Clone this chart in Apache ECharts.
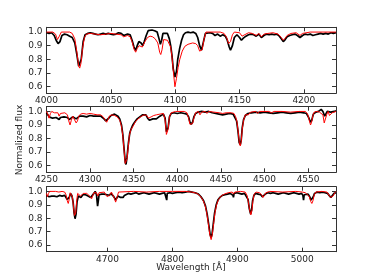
<!DOCTYPE html>
<html><head><meta charset="utf-8">
<script src="https://cdn.jsdelivr.net/npm/echarts@6/dist/echarts.min.js"></script>
<style>html,body{margin:0;padding:0;background:#fff}#c{width:374px;height:280px}</style>
</head><body><div id="c"></div>
<script>
// ---- data ----
const xRange1 = [4000, 4225];
const xRange2 = [4250, 4582];
const xRange3 = [4606, 5052];
const yRange = [0.55, 1.035];
const xTicks1 = [4000, 4050, 4100, 4150, 4200];
const xTicks2 = [4250, 4300, 4350, 4400, 4450, 4500, 4550];
const xTicks3 = [4700, 4800, 4900, 5000];
const yTicks = [0.6, 0.7, 0.8, 0.9, 1.0];

const obs1 = [[4000,0.995],[4002,0.99],[4004,0.995],[4006,0.975],[4007.5,0.94],[4009,0.915],[4010.5,0.93],[4012,0.975],[4014,0.985],[4016,0.98],[4018,0.97],[4020,0.96],[4022,0.92],[4023.5,0.84],[4025,0.75],[4026,0.755],[4027,0.8],[4028.5,0.93],[4030,0.98],[4032,0.99],[4034,0.995],[4036,0.99],[4038,0.985],[4040,0.98],[4042,0.985],[4044,0.99],[4046,0.985],[4048,0.99],[4050,0.985],[4052,0.98],[4054,0.985],[4056,0.995],[4058,0.99],[4060,0.975],[4061.5,0.97],[4063,0.985],[4065,0.98],[4066.5,0.94],[4068,0.89],[4069.3,0.865],[4070.5,0.9],[4071.8,0.93],[4073.5,0.92],[4074.8,0.9],[4076,0.93],[4077.5,0.975],[4079,1.01],[4080.5,1.02],[4082,1.015],[4084,1.01],[4086,1.0],[4087.5,0.95],[4088.5,0.91],[4089.5,0.94],[4090.5,0.99],[4092,1.0],[4094,0.99],[4095.5,0.95],[4096.5,0.9],[4097.5,0.83],[4098.5,0.73],[4099.8,0.67],[4101,0.71],[4102,0.8],[4103.5,0.88],[4105,0.94],[4106.5,0.98],[4108,0.995],[4110,1.0],[4112,0.995],[4114,1.0],[4116,0.99],[4117.5,0.96],[4119,0.9],[4120.5,0.867],[4122,0.93],[4123.5,0.99],[4125,1.0],[4127,0.995],[4129,0.99],[4131,0.975],[4133,0.985],[4135,0.97],[4137,0.98],[4139,0.97],[4140.5,0.94],[4142,0.89],[4143,0.867],[4144.5,0.9],[4146,0.96],[4148,0.98],[4150,0.96],[4151.5,0.94],[4153,0.955],[4155,0.97],[4157,0.98],[4159,0.985],[4161,0.98],[4163,0.97],[4165,0.985],[4167,0.96],[4169,0.975],[4171,0.985],[4173,0.98],[4175,0.985],[4177,0.98],[4179,0.985],[4181,0.97],[4182.5,0.95],[4184,0.93],[4185.5,0.945],[4187,0.965],[4189,0.975],[4191,0.98],[4193,0.985],[4195,0.975],[4197,0.96],[4199,0.975],[4201,0.985],[4203,0.98],[4205,0.985],[4207,0.975],[4209,0.98],[4211,0.985],[4213,0.99],[4215,0.985],[4217,0.99],[4219,0.985],[4221,0.995],[4223,0.99],[4225,0.995]];

const mod1 = [[4000,1.0],[4005,1.0],[4007,0.985],[4008.5,0.945],[4010,0.97],[4011.5,1.0],[4018,1.0],[4020,0.99],[4022,0.95],[4023.5,0.86],[4025,0.75],[4025.8,0.735],[4026.8,0.77],[4028,0.88],[4029.5,0.96],[4031,0.985],[4034,0.99],[4038,0.985],[4042,0.98],[4046,0.985],[4050,0.99],[4054,0.985],[4058,0.98],[4060,0.965],[4061.5,0.955],[4063,0.975],[4065,0.965],[4066.5,0.93],[4068,0.875],[4069.3,0.852],[4070.5,0.88],[4072,0.9],[4074.5,0.89],[4076.5,0.93],[4078.5,0.96],[4080.5,0.97],[4082.5,0.965],[4084.5,0.95],[4085.5,0.935],[4086.5,0.92],[4088,0.85],[4088.8,0.835],[4089.8,0.87],[4091,0.945],[4092.5,0.945],[4094,0.94],[4095.5,0.93],[4096.5,0.89],[4097.5,0.82],[4098.7,0.7],[4099.8,0.598],[4101,0.66],[4102.3,0.74],[4103.6,0.8],[4105.5,0.86],[4107.5,0.895],[4110,0.91],[4113.6,0.92],[4116,0.915],[4117.5,0.9],[4119,0.86],[4120,0.85],[4121,0.87],[4122.5,0.95],[4124,1.0],[4135,1.0],[4138,0.99],[4140,0.96],[4141.5,0.915],[4143,0.93],[4144.5,0.98],[4146,1.0],[4150,0.995],[4152,0.97],[4153.5,0.96],[4155,0.985],[4157,0.995],[4160,0.99],[4163,0.975],[4165,0.99],[4167,0.965],[4169,0.985],[4172,0.99],[4176,0.995],[4180,0.985],[4182.5,0.96],[4184,0.94],[4185.5,0.955],[4187,0.975],[4190,0.99],[4194,0.995],[4197,0.975],[4199,0.99],[4205,1.0],[4225,1.0]];

const obs2 = [[4250,0.99],[4251.5,0.975],[4253,0.96],[4255,0.965],[4257,0.95],[4259,0.96],[4261,0.955],[4263,0.965],[4264.5,0.94],[4266,0.955],[4268,0.965],[4270,0.96],[4272,0.965],[4274,0.955],[4276,0.94],[4278,0.95],[4280,0.96],[4282,0.955],[4284,0.945],[4286,0.955],[4288,0.965],[4290,0.96],[4292,0.965],[4294,0.97],[4296,0.96],[4298,0.965],[4300,0.97],[4302,0.96],[4304,0.965],[4306,0.97],[4308,0.965],[4310,0.96],[4312,0.965],[4314,0.955],[4316,0.945],[4318,0.93],[4320,0.935],[4322,0.955],[4324,0.97],[4326,0.975],[4328,0.98],[4330,0.97],[4332,0.965],[4334,0.945],[4336,0.9],[4337.5,0.83],[4339,0.72],[4340.3,0.625],[4341.2,0.608],[4342.3,0.66],[4344,0.77],[4345.5,0.84],[4347,0.87],[4349,0.9],[4351,0.92],[4354,0.945],[4357,0.96],[4360,0.975],[4362,0.98],[4364,0.975],[4366,0.95],[4368,0.935],[4370,0.94],[4372,0.945],[4374,0.94],[4376,0.945],[4378,0.955],[4380,0.965],[4382,0.975],[4384,0.98],[4386,0.95],[4387.5,0.85],[4388.3,0.84],[4389.5,0.88],[4391,0.96],[4393,0.985],[4396,0.99],[4400,0.985],[4404,0.99],[4408,0.985],[4411,0.98],[4413,0.96],[4414.5,0.92],[4416,0.905],[4417.5,0.92],[4419,0.96],[4421,0.985],[4424,0.995],[4428,1.0],[4432,0.995],[4436,1.0],[4440,0.99],[4444,0.985],[4448,0.98],[4452,0.975],[4456,0.98],[4460,0.985],[4464,0.98],[4466,0.97],[4468,0.93],[4469.5,0.86],[4471,0.77],[4472.3,0.755],[4473.3,0.79],[4474.5,0.88],[4476,0.94],[4478,0.97],[4481,0.985],[4485,0.99],[4490,0.995],[4495,0.99],[4500,0.995],[4505,0.99],[4510,0.985],[4515,0.99],[4520,0.995],[4525,0.99],[4530,0.985],[4535,0.99],[4540,0.995],[4545,0.99],[4548,0.985],[4551,0.95],[4552.8,0.92],[4554.2,0.935],[4556,0.98],[4559,0.995],[4562,1.0],[4565,1.015],[4567,1.0],[4569,0.965],[4570.5,0.975],[4572,1.0],[4574,1.01],[4576,0.995],[4578,1.005],[4580,1.0],[4582,1.005]];

const mod2 = [[4250,1.0],[4251.5,0.98],[4253,0.95],[4254.5,0.985],[4256,1.0],[4259,0.99],[4261,0.985],[4263,0.99],[4264.5,0.965],[4266,0.985],[4268,0.995],[4271,0.99],[4274,0.975],[4275.5,0.93],[4277,0.9],[4278.5,0.935],[4280,0.965],[4282,0.955],[4284,0.915],[4285.5,0.93],[4287,0.965],[4289,0.98],[4292,0.985],[4296,0.98],[4300,0.985],[4304,0.98],[4308,0.975],[4312,0.975],[4315,0.96],[4317.5,0.935],[4319,0.92],[4320.5,0.94],[4322,0.965],[4325,0.975],[4328,0.97],[4331,0.96],[4334,0.935],[4336,0.89],[4337.5,0.82],[4339,0.71],[4340.3,0.615],[4341.2,0.603],[4342.3,0.65],[4344,0.75],[4345,0.82],[4346.5,0.86],[4348,0.87],[4350,0.9],[4352,0.925],[4355,0.945],[4358,0.96],[4362,0.975],[4365,0.97],[4367,0.95],[4368.5,0.94],[4370,0.96],[4373,0.97],[4376,0.975],[4380,0.98],[4384,0.985],[4386,0.94],[4387.5,0.83],[4388.3,0.825],[4389.5,0.87],[4391,0.96],[4393,0.99],[4398,1.0],[4408,1.0],[4411,0.99],[4413,0.95],[4414.5,0.905],[4416,0.895],[4417.5,0.91],[4419,0.95],[4421,0.99],[4424,1.0],[4426,0.975],[4428,0.995],[4432,1.0],[4434,0.985],[4436,1.0],[4442,0.995],[4448,0.99],[4452,0.985],[4456,0.99],[4462,0.99],[4465,0.985],[4467,0.96],[4468.5,0.92],[4470,0.84],[4471.3,0.76],[4472.3,0.745],[4473.3,0.78],[4474.5,0.87],[4476,0.935],[4478,0.975],[4480,0.97],[4481.5,0.975],[4484,0.995],[4490,1.0],[4492,0.985],[4494,1.0],[4505,1.0],[4508,0.99],[4511,1.0],[4520,1.0],[4530,0.995],[4540,1.0],[4547,1.0],[4549.5,0.98],[4551.5,0.93],[4552.8,0.9],[4554,0.92],[4555.5,0.97],[4557,0.995],[4560,1.0],[4563,0.995],[4565,1.0],[4567,0.975],[4568.5,0.915],[4570,0.925],[4571.5,0.98],[4573,1.0],[4574.5,0.97],[4576,0.96],[4577.5,0.99],[4579,1.0],[4582,1.0]];

const obs3 = [[4606,0.97],[4608,0.965],[4610,0.96],[4612,0.97],[4614,0.965],[4616,0.955],[4618,0.965],[4620,0.97],[4622,0.96],[4624,0.965],[4626,0.97],[4628,0.96],[4630,0.965],[4632,0.975],[4634,0.97],[4636,0.96],[4638,0.94],[4639.5,0.93],[4641,0.955],[4643,0.985],[4645,0.97],[4647,0.92],[4648.5,0.84],[4650,0.796],[4651.5,0.83],[4653,0.92],[4655,0.965],[4657,0.97],[4659,0.955],[4660.5,0.95],[4662,0.975],[4664,0.985],[4666,0.975],[4668,0.97],[4670,0.965],[4672,0.96],[4674,0.955],[4675.5,0.945],[4677,0.96],[4679,0.985],[4681,1.0],[4683,0.975],[4684.7,0.89],[4685.8,0.93],[4687,0.975],[4689,0.985],[4691,0.98],[4693,0.97],[4695,0.98],[4697,0.985],[4699,0.975],[4701,0.98],[4703,0.97],[4705,0.985],[4707,0.98],[4709,0.965],[4711,0.95],[4712.5,0.935],[4714,0.945],[4716,0.965],[4718,0.96],[4720,0.955],[4722,0.945],[4724,0.955],[4726,0.97],[4728,0.98],[4732,0.985],[4736,0.98],[4740,0.985],[4744,0.99],[4748,0.98],[4752,0.985],[4756,0.99],[4760,0.985],[4764,0.98],[4768,0.985],[4772,0.99],[4776,0.985],[4780,0.98],[4784,0.985],[4788,0.99],[4790.3,0.985],[4791.2,0.935],[4792,0.985],[4796,0.99],[4800,0.985],[4805,0.99],[4810,0.995],[4815,0.99],[4820,0.995],[4825,1.0],[4830,0.995],[4835,0.99],[4840,0.98],[4844,0.96],[4848,0.93],[4851,0.89],[4853.5,0.83],[4856,0.75],[4858,0.68],[4859.6,0.655],[4861,0.68],[4863,0.76],[4865,0.84],[4867.5,0.9],[4870,0.935],[4873,0.955],[4877,0.97],[4881,0.975],[4885,0.98],[4889,0.985],[4892,0.98],[4893.3,0.97],[4894,0.955],[4895,0.985],[4899,0.99],[4903,0.985],[4907,0.98],[4911,0.985],[4914,0.975],[4916.5,0.94],[4918.5,0.87],[4920.5,0.83],[4922,0.86],[4923.5,0.93],[4925.5,0.97],[4928,0.985],[4932,0.98],[4936,0.975],[4938.5,0.96],[4940.5,0.965],[4943,0.98],[4947,0.99],[4951,0.985],[4955,0.99],[4959,0.985],[4963,0.98],[4967,0.985],[4971,0.99],[4975,0.985],[4979,0.98],[4983,0.985],[4987,0.99],[4991,0.985],[4995,0.98],[4999,0.985],[5001,0.97],[5002,0.935],[5003,0.975],[5006,0.985],[5009,0.98],[5011.5,0.96],[5013.5,0.935],[5015,0.935],[5017,0.96],[5019,0.985],[5023,0.995],[5027,0.99],[5031,0.995],[5035,0.99],[5039,0.985],[5042,0.975],[5044,0.955],[5045.5,0.95],[5047,0.965],[5049,0.985],[5051,0.995],[5052,0.99]];

const mod3 = [[4606,0.985],[4607.5,0.96],[4609,0.985],[4611,1.0],[4620,1.0],[4625,0.995],[4630,1.0],[4634,0.995],[4636.5,0.97],[4638,0.93],[4639.5,0.91],[4641,0.94],[4642.5,0.99],[4644,1.0],[4646,0.96],[4647.5,0.89],[4649,0.82],[4650,0.81],[4651,0.84],[4652.5,0.93],[4654,0.985],[4656,0.99],[4658.5,0.965],[4660.5,0.955],[4662.5,0.985],[4665,0.995],[4668,0.985],[4671,0.975],[4673.5,0.96],[4675.5,0.945],[4677,0.965],[4679,0.99],[4681,1.0],[4683,0.99],[4685,0.965],[4687,0.99],[4690,1.0],[4695,0.995],[4698,0.99],[4699.5,0.96],[4701,0.965],[4702.5,0.955],[4704,0.975],[4706,0.995],[4708.5,0.985],[4710.5,0.95],[4712.5,0.92],[4714,0.93],[4715.5,0.97],[4717,0.995],[4720,1.0],[4740,1.0],[4760,0.995],[4780,1.0],[4800,1.0],[4820,1.0],[4830,0.995],[4838,0.985],[4843,0.965],[4847,0.935],[4850,0.9],[4852.5,0.85],[4855,0.77],[4857.5,0.68],[4859.6,0.64],[4861.5,0.68],[4863.5,0.76],[4865.5,0.84],[4868,0.9],[4871,0.94],[4875,0.965],[4880,0.98],[4886,0.99],[4892,0.995],[4894,0.98],[4896,0.995],[4905,1.0],[4912,0.995],[4915,0.97],[4917,0.92],[4919,0.86],[4920.8,0.825],[4922.5,0.86],[4924,0.93],[4926,0.98],[4929,0.995],[4934,0.99],[4937.5,0.975],[4939.5,0.955],[4941.5,0.97],[4944,0.99],[4950,1.0],[4970,0.995],[4990,1.0],[5000,0.995],[5005,0.99],[5008,0.985],[5011,0.96],[5013,0.925],[5014.8,0.91],[5016.5,0.93],[5018.5,0.975],[5021,0.995],[5030,1.0],[5038,0.995],[5041,0.985],[5043.5,0.955],[5045.5,0.945],[5047.5,0.965],[5050,0.99],[5052,1.0]];

// ---- chart ----
const FONT = 'DejaVu Sans';
const TXT = '#262626';
const FRAME = '#333';
const grids = [
  {left: 46.5, top: 27.3, width: 289.5, height: 66},
  {left: 46.5, top: 106.7, width: 289.5, height: 65.6},
  {left: 46.5, top: 186.7, width: 289.5, height: 65}
];
const xr = [xRange1, xRange2, xRange3];
const xt = [xTicks1, xTicks2, xTicks3];
const xAxes = [], yAxes = [];
for (let i = 0; i < 3; i++) {
  xAxes.push({type:'value', gridIndex:i, position:'bottom', min:xr[i][0], max:xr[i][1],
    axisLine:{show:true, onZero:false, lineStyle:{color:FRAME, width:1}},
    axisTick:{show:true, inside:true, length:4, customValues:xt[i], lineStyle:{color:FRAME}},
    axisLabel:{show:true, customValues:xt[i], margin:3, fontFamily:FONT, fontSize:9, color:TXT,
      formatter:v=>String(v)},
    splitLine:{show:false}});
  yAxes.push({type:'value', gridIndex:i, position:'left', min:yRange[0], max:yRange[1],
    axisLine:{show:true, onZero:false, lineStyle:{color:FRAME, width:1}},
    axisTick:{show:true, inside:true, length:4, customValues:yTicks, lineStyle:{color:FRAME}},
    axisLabel:{show:true, customValues:yTicks, margin:4, fontFamily:FONT, fontSize:9, color:TXT,
      formatter:v=>v.toFixed(1)},
    splitLine:{show:false}});
}
for (let i = 0; i < 3; i++) {
  xAxes.push({type:'value', gridIndex:i, position:'top', min:xr[i][0], max:xr[i][1],
    axisLine:{show:true, onZero:false, lineStyle:{color:FRAME, width:1}},
    axisTick:{show:true, inside:true, length:4, customValues:xt[i], lineStyle:{color:FRAME}},
    axisLabel:{show:false}, splitLine:{show:false}});
  yAxes.push({type:'value', gridIndex:i, position:'right', min:yRange[0], max:yRange[1],
    axisLine:{show:true, onZero:false, lineStyle:{color:FRAME, width:1}},
    axisTick:{show:true, inside:true, length:4, customValues:yTicks, lineStyle:{color:FRAME}},
    axisLabel:{show:false}, splitLine:{show:false}});
}
const obsList = [obs1, obs2, obs3], modList = [mod1, mod2, mod3];
const series = [];
for (let i = 0; i < 3; i++) {
  series.push({type:'line', xAxisIndex:i, yAxisIndex:i, data:obsList[i], showSymbol:false,
    lineStyle:{color:'#000', width:1.7}, z:2, clip:true});
}
for (let i = 0; i < 3; i++) {
  series.push({type:'line', xAxisIndex:i, yAxisIndex:i, data:modList[i], showSymbol:false,
    lineStyle:{color:'#ff0000', width:1}, z:3, clip:true});
}
const chart = echarts.init(document.getElementById('c'), null, {renderer:'canvas'});
chart.setOption({
  animation:false,
  backgroundColor:'#fff',
  grid:grids,
  xAxis:xAxes,
  yAxis:yAxes,
  series:series,
  graphic:[
    {type:'text', x:20, y:140, rotation:Math.PI/2,
      style:{text:'Normalized flux', font:'9px "DejaVu Sans"', fill:TXT, align:'center', verticalAlign:'middle'}},
    {type:'text', x:191, y:268, style:{text:'Wavelength [Å]', font:'9px "DejaVu Sans"', fill:TXT, align:'center', verticalAlign:'middle'}}
  ]
});
</script></body></html>
